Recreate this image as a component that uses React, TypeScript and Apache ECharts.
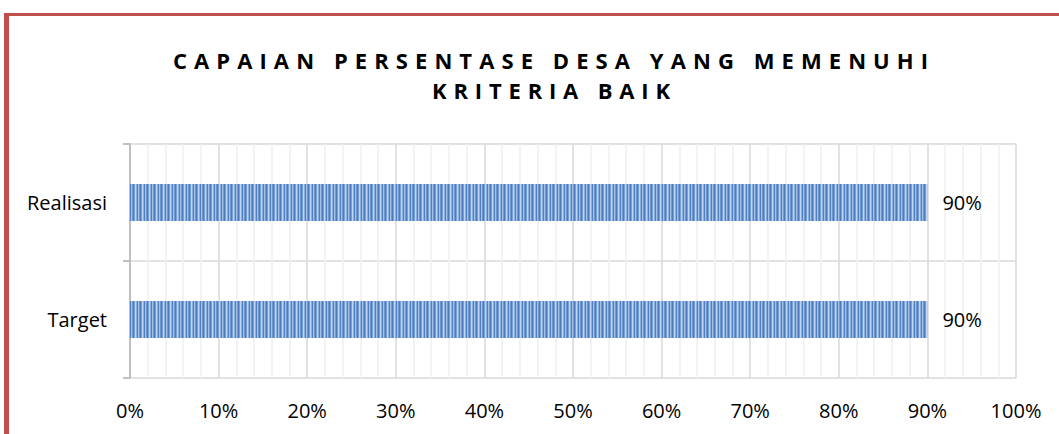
import React, { useEffect, useRef } from "react";
import * as echarts from "echarts";

const categories = ["Target", "Realisasi"];
const values = [90, 90];
const titleLines = ["CAPAIAN PERSENTASE DESA YANG MEMENUHI", "KRITERIA BAIK"];
const titleLeft = [173, 432];
const titleWidth = [755, 238];

function makeStripe(): HTMLCanvasElement {
  const c = document.createElement("canvas");
  const cols = ["#4a7cbf", "#77a0d6", "#c0d4ee", "#8cafdd", "#4f80c2", "#a4c1e8", "#7199d1"];
  c.width = cols.length;
  c.height = 4;
  const ctx = c.getContext("2d")!;
  cols.forEach((col, i) => {
    ctx.fillStyle = col;
    ctx.fillRect(i, 0, 1, 4);
  });
  return c;
}

export default function App() {
  const ref = useRef<HTMLDivElement>(null);
  useEffect(() => {
    document.body.style.margin = "0";
    const el = ref.current!;
    const chart = echarts.init(el, undefined, { renderer: "svg" });
    const font = "Open Sans";
    chart.setOption({
      animation: false,
      backgroundColor: "#ffffff",
      graphic: [
        { type: "rect", shape: { x: 4, y: 13, width: 1059, height: 3 }, style: { fill: "#c0504d" }, z: 10 },
        { type: "rect", shape: { x: 4, y: 13, width: 5, height: 421 }, style: { fill: "#c0504d" }, z: 10 },
        ...titleLines.map((t, i) => ({
          type: "text",
          x: titleLeft[i],
          y: 60 + i * 30,
          style: {
            text: t,
            fill: "#000",
            fontSize: 22,
            fontWeight: "bold",
            fontFamily: font,
            textAlign: "left",
            textVerticalAlign: "middle",
          },
        })),
      ],
      grid: { left: 130, right: 43, top: 144, height: 234, containLabel: false },
      xAxis: {
        type: "value",
        min: 0,
        max: 100,
        interval: 10,
        splitNumber: 5,
        axisLine: { show: false },
        axisTick: { show: false },
        axisLabel: { formatter: "{value}%", fontSize: 20, color: "#000", fontFamily: font, margin: 22 },
        splitLine: { show: true, lineStyle: { color: "#d9d9d9", width: 1.5 } },
        minorTick: { show: false, splitNumber: 5 },
        minorSplitLine: { show: true, lineStyle: { color: "#efefef", width: 1.5 } },
      },
      yAxis: {
        type: "category",
        data: categories,
        axisLine: { show: true, lineStyle: { color: "#bfbfbf", width: 2 } },
        axisTick: { show: true, length: 7, lineStyle: { color: "#bfbfbf", width: 2 } },
        axisLabel: { fontSize: 20, color: "#000", fontFamily: font, margin: 23 },
        splitLine: { show: true, lineStyle: { color: "#d9d9d9", width: 1.5 } },
      },
      series: [
        {
          type: "bar",
          data: values,
          barWidth: 37,
          itemStyle: { color: { image: makeStripe(), repeat: "repeat" } },
          label: {
            show: true,
            position: "right",
            distance: 15,
            formatter: "{c}%",
            fontSize: 20,
            color: "#000",
            fontFamily: font,
          },
        },
      ],
    });
    const patch = () => {
      el.querySelectorAll("text").forEach((t) => {
        const idx = titleLines.indexOf((t.textContent || "").trim());
        if (idx >= 0) {
          const st = t as unknown as SVGTextElement;
          st.removeAttribute("letter-spacing");
          const len = st.getComputedTextLength();
          const n = titleLines[idx].length;
          const sp = (titleWidth[idx] - len) / (n - 1);
          st.setAttribute("letter-spacing", sp.toFixed(2));
        }
      });
    };
    patch();
    chart.on("finished", patch);
    const timer = setTimeout(patch, 0);
    return () => {
      clearTimeout(timer);
      chart.dispose();
    };
  }, []);
  return <div ref={ref} style={{ position: "absolute", left: 0, top: 0, width: 1059, height: 434 }} />;
}
